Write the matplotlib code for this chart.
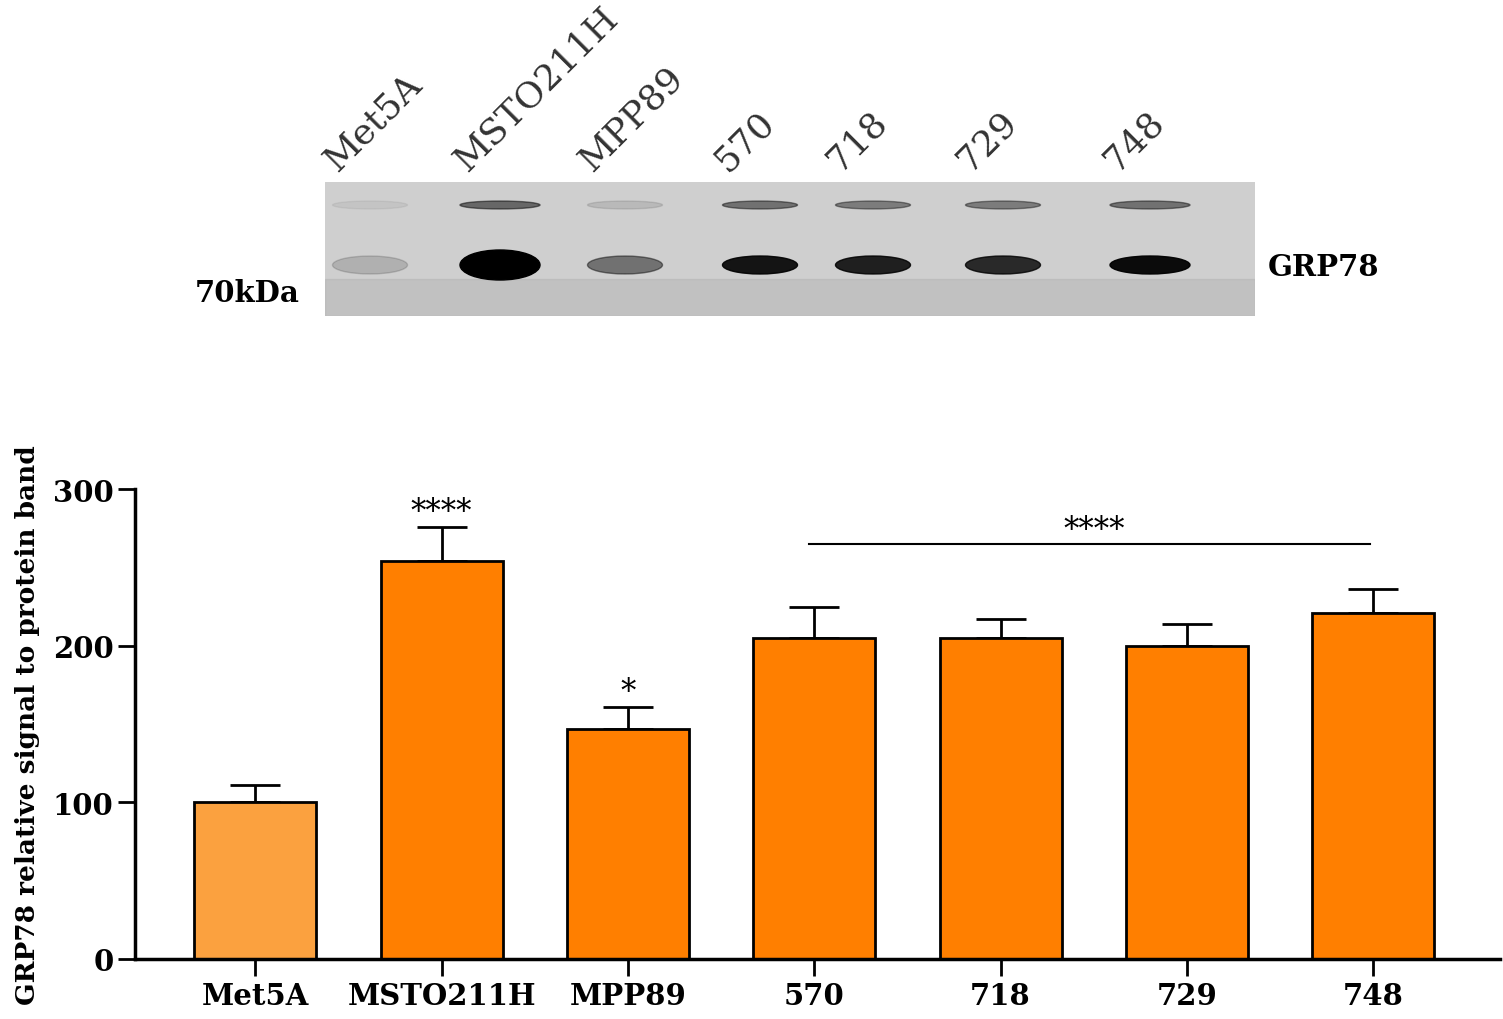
import matplotlib.pyplot as plt
from matplotlib.patches import Ellipse, Rectangle

cells = ["Met5A", "MSTO211H", "MPP89", "570", "718", "729", "748"]
values = [100, 254, 147, 205, 205, 200, 221]
errors = [11, 22, 14, 20, 12, 14, 15]
colors = ["#FBA13F", "#FF7F00", "#FF7F00", "#FF7F00", "#FF7F00", "#FF7F00", "#FF7F00"]

# blot lane appearance (pixel positions of the scanned image, band darkness 0-1)
lane_x = [370, 500, 625, 760, 873, 1003, 1150]
band_dark = [0.15, 1.0, 0.45, 0.9, 0.85, 0.8, 0.95]
upper_dark = [0.05, 0.5, 0.1, 0.45, 0.4, 0.4, 0.45]

plt.rcParams["font.family"] = "DejaVu Serif"
fig = plt.figure(figsize=(15.03, 10.20), dpi=100)

# ---- western blot panel ----
bx = fig.add_axes([325 / 1503, 1 - 317 / 1020, 930 / 1503, 134 / 1020])
bx.set_xlim(325, 1255)
bx.set_ylim(317, 183)
bx.axis("off")
bx.add_patch(Rectangle((325, 183), 930, 134, color="#cfcfcf"))
bx.add_patch(Rectangle((325, 280), 930, 37, color="#a9a9a9", alpha=0.35))
for i, (x, d, u) in enumerate(zip(lane_x, band_dark, upper_dark)):
    w = 80 if d > 0.9 else 75
    h = 30 if d > 0.95 else 18
    bx.add_patch(Ellipse((x, 266), w, h, color="black", alpha=d))
    bx.add_patch(Ellipse((x, 206), w, 8, color="black", alpha=u))
    bx.text(x - 28, 178, cells[i], rotation=45, fontsize=26,
            color="#333333", ha="left", va="bottom", rotation_mode="anchor")
fig.text(195 / 1503, 1 - 293 / 1020, "70kDa", fontsize=21, fontweight="bold",
         ha="left", va="center")
fig.text(1268 / 1503, 1 - 268 / 1020, "GRP78", fontsize=21, fontweight="bold",
         ha="left", va="center")

# ---- bar chart ----
ax = fig.add_axes([135 / 1503, 60 / 1020, 1365 / 1503, 470 / 1020])
pos = list(range(len(cells)))
ax.bar(pos, values, width=0.655, color=colors, edgecolor="black", linewidth=2, zorder=2)
ax.errorbar(pos, values, yerr=[[0] * len(errors), errors], fmt="none", ecolor="black",
            elinewidth=2, capsize=18, capthick=2, zorder=1)
ax.set_xlim(-0.645, 6.68)
ax.set_ylim(0, 300)
ax.set_yticks([0, 100, 200, 300])
ax.set_xticks(pos)
ax.set_xticklabels(cells, fontsize=21, fontweight="bold")
ax.tick_params(axis="both", width=2, length=12, labelsize=21)
for lab in ax.get_yticklabels():
    lab.set_fontweight("bold")
for s in ["top", "right"]:
    ax.spines[s].set_visible(False)
for s in ["left", "bottom"]:
    ax.spines[s].set_linewidth(2.5)
fig.text(28 / 1503, 1 - 725 / 1020, "GRP78 relative signal to protein band",
         rotation=90, fontsize=19, fontweight="bold", ha="center", va="center")

ax.text(1, 276, "****", ha="center", va="bottom", fontsize=22)
ax.text(2, 161, "*", ha="center", va="bottom", fontsize=22)
ax.plot([2.97, 5.98], [265, 265], color="black", linewidth=1.5)
ax.text(4.5, 264, "****", ha="center", va="bottom", fontsize=22)

fig.savefig("out.png", dpi=100)
